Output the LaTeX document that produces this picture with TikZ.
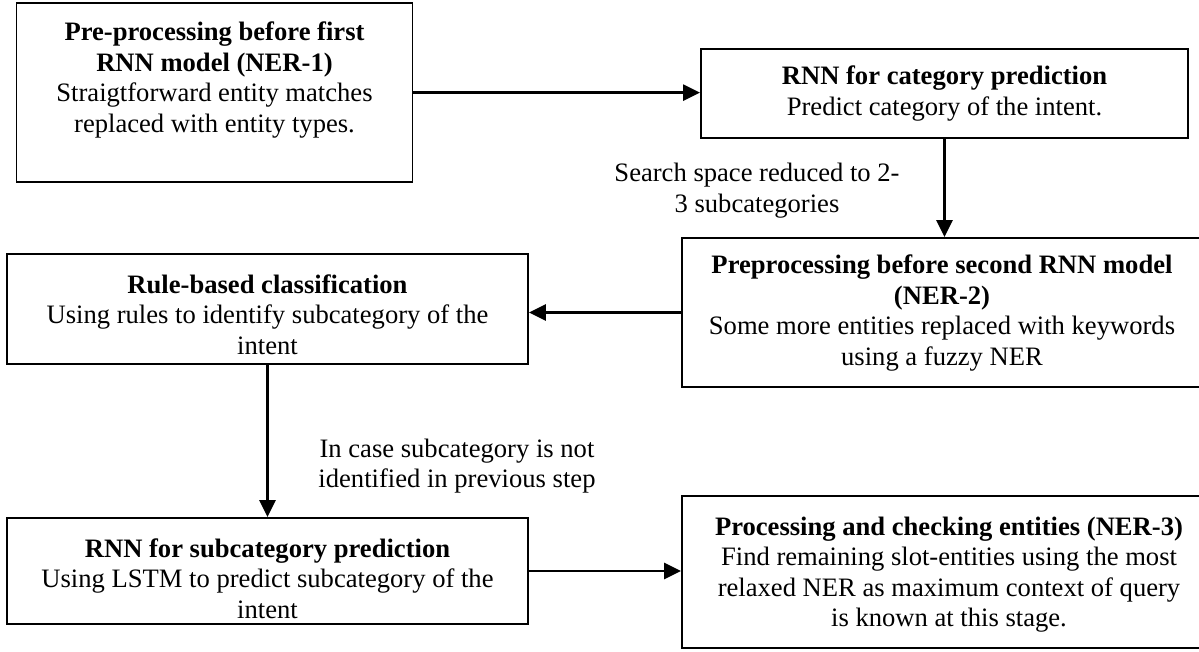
\documentclass[tikz,border=0pt]{standalone}
\usepackage{fontspec}
\setmainfont{Liberation Serif}
\usetikzlibrary{arrows.meta}
\begin{document}
\begin{tikzpicture}[x=1pt,y=-1pt,
  box/.style={draw, line width=1.9pt, inner sep=0pt},
  txt/.style={align=center, inner sep=0pt, font=\fontsize{26.6}{30.5}\selectfont},
  conn/.style={line width=2.6pt, -{Triangle[length=17pt,width=16pt]}}]
\useasboundingbox (0,0) rectangle (1199,652);
\clip (0,0) rectangle (1199,652);
% boxes
\node[box, minimum width=396pt, minimum height=178.7pt] (b1) at (214.5,92.65) {};
\node[box, minimum width=487pt, minimum height=89pt] (b2) at (944.5,93.5) {};
\node[box, minimum width=520pt, minimum height=149pt] (b3) at (942,312.5) {};
\node[box, minimum width=521pt, minimum height=110pt] (b4) at (267.5,309) {};
\node[box, minimum width=521pt, minimum height=106pt] (b5) at (267.5,571) {};
\node[box, minimum width=534pt, minimum height=152pt] (b6) at (949,572) {};
% box texts
\node[txt] (t1) at (214.5,80) {\textbf{Pre-processing before first}\\\textbf{RNN model (NER-1)}\\Straigtforward entity matches\\replaced with entity types.};
\node[txt] (t2) at (944.5,93.5) {\textbf{RNN for category prediction}\\Predict category of the intent.};
\node[txt] (t3) at (942,313) {\textbf{Preprocessing before second RNN model}\\\textbf{(NER-2)}\\Some more entities replaced with keywords\\using a fuzzy NER};
\node[txt] (t4) at (267.5,314.5) {\textbf{Rule-based classification}\\Using rules to identify subcategory of the\\intent};
\node[txt] (t5) at (267.5,578.5) {\textbf{RNN for subcategory prediction}\\Using LSTM to predict subcategory of the\\intent};
\node[txt] (t6) at (949,574.5) {\textbf{Processing and checking entities (NER-3)}\\Find remaining slot-entities using the most\\relaxed NER as maximum context of query\\is known at this stage.};
% labels
\node[txt] (l1) at (757,190.5) {Search space reduced to 2-\\3 subcategories};
\node[txt] (l2) at (457,466) {In case subcategory is not\\identified in previous step};
% connectors
\draw[conn] (b1.east) -- (b1.east -| b2.west);
\draw[conn] (b2.south) -- (b2.south |- b3.north);
\draw[conn] (b3.west) -- (b3.west -| b4.east);
\draw[conn] (b4.south) -- (b4.south |- b5.north);
\draw[conn] (b5.east) -- (b5.east -| b6.west);
\end{tikzpicture}
\end{document}
